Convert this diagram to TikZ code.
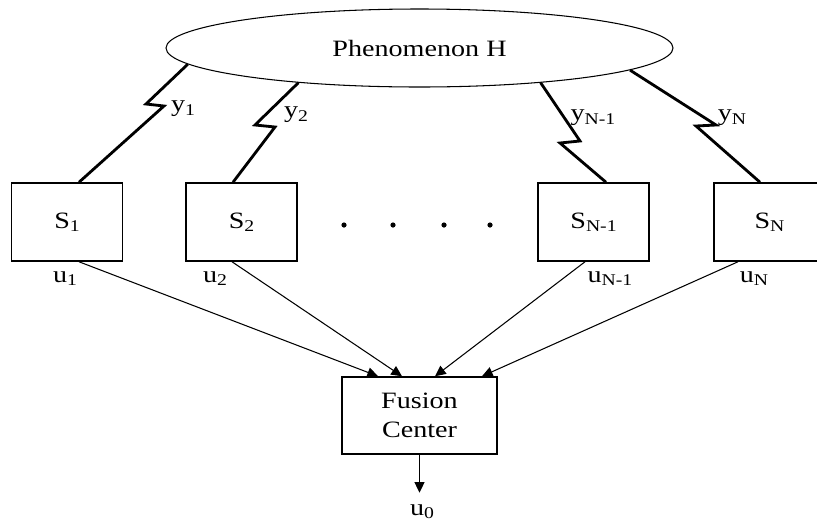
\documentclass[tikz,border=0pt]{standalone}
\usepackage{fontspec}
\setmainfont{Liberation Serif}[FakeStretch=1.2]
\usetikzlibrary{shapes.geometric,arrows.meta,calc}
\newcommand{\lowidx}[1]{\raisebox{-0.3ex}{\fontsize{14}{16}\selectfont #1}}

\begin{document}
\begin{tikzpicture}[x=0.03cm, y=-0.03cm]
        \tikzstyle{pheno_node}  = [shape = ellipse,   draw = black, line width=0.9pt, minimum width=15.21cm, minimum height=2.34cm, inner sep=0pt, font=\fontsize{20}{24}\selectfont]
        \tikzstyle{sensor_box}  = [shape = rectangle, draw = black, line width=1.3pt, minimum width=3.33cm, minimum height=2.34cm, inner sep=0pt, font=\fontsize{20}{24}\selectfont]
        \tikzstyle{fusion_box}  = [shape = rectangle, draw = black, line width=1.3pt, minimum width=4.65cm, minimum height=2.31cm, inner sep=0pt, align=center, font=\fontsize{20}{25}\selectfont]
        \tikzstyle{sig_label}   = [inner sep=0pt, font=\fontsize{20}{24}\selectfont]
        \tikzstyle{link_line}   = [line width=2.4pt, line join=miter]
        \tikzstyle{fc_arrow}    = [line width=0.9pt, -{Triangle[length=0.32cm, width=0.3cm]}]

        \useasboundingbox (0,0) rectangle (817,523);

        \node[pheno_node] at (419.5, 48) (ph) {Phenomenon H};

        \node[sensor_box] at (67.0, 222) (s1)  {S\lowidx{1}};
        \node[sensor_box] at (241.5, 222) (s2) {S\lowidx{2}};
        \node[sensor_box] at (593.5, 222) (sn1) {S\lowidx{N-1}};
        \node[sensor_box] at (769.5, 222) (sn)  {S\lowidx{N}};

        \foreach \dx in {344, 393, 444, 490}
          \fill (\dx, 225) circle (2.6);

        \node[fusion_box] at (419.5, 415.5) (fc) {Fusion\\Center};

        % zigzag corners of the sensing links
        \coordinate (y1_a)  at (146, 104);
        \coordinate (y1_b)  at (164, 106);
        \coordinate (y2_a)  at (255, 125);
        \coordinate (y2_b)  at (275, 127);
        \coordinate (yn1_a) at (580, 141);
        \coordinate (yn1_b) at (560, 143);
        \coordinate (yn_a)  at (716, 125);
        \coordinate (yn_b)  at (696, 126);

        \draw[link_line] (ph.184) -- (y1_a) -- (y1_b) -- ($(s1.north)+(12,0)$);
        \draw[link_line] (ph.196) -- (y2_a) -- (y2_b) -- ($(s2.north)+(-8.5,0)$);
        \draw[link_line] (ph.344) -- (yn1_a) -- (yn1_b) -- ($(sn1.north)+(12.5,0)$);
        \draw[link_line] (ph.354.5) -- (yn_a) -- (yn_b) -- ($(sn.north)+(-9.5,0)$);

        \node[sig_label] at (183, 109) (l_y1)  {y\lowidx{1}};
        \node[sig_label] at (296, 115) (l_y2)  {y\lowidx{2}};
        \node[sig_label] at (593, 118) (l_yn1) {y\lowidx{N-1}};
        \node[sig_label] at (732, 118) (l_yn)  {y\lowidx{N}};

        \node[sig_label] at (65, 279)  (l_u1)  {u\lowidx{1}};
        \node[sig_label] at (215, 279) (l_u2)  {u\lowidx{2}};
        \node[sig_label] at (610, 279) (l_un1) {u\lowidx{N-1}};
        \node[sig_label] at (754, 279) (l_un)  {u\lowidx{N}};

        \node[sig_label] at (422, 512) (u0) {u\lowidx{0}};

        \path[fc_arrow]
          ($(s1.south)+(12,0)$)    edge ($(fc.north)+(-41.5,0)$)
          ($(s2.south)+(-9.5,0)$)  edge ($(fc.north)+(-17.5,0)$)
          ($(sn1.south)+(-8.5,0)$) edge ($(fc.north)+(15.5,0)$)
          ($(sn.south)+(-31.5,0)$) edge ($(fc.north)+(62.5,0)$)
        ;

        \draw[fc_arrow] (fc.south) -- ++(0, 38);
      \end{tikzpicture}
\end{document}
